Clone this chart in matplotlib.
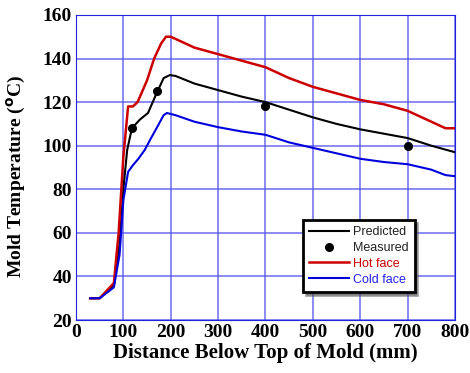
import matplotlib.pyplot as plt
import numpy as np

# Predicted temperature along the mold
pred_x = [30, 50, 80, 92, 100, 108, 118, 135, 152, 170, 185, 198, 210, 250, 300, 350, 400, 450, 500, 550, 600, 650, 700, 750, 800]
pred_y = [30, 30, 36, 55, 80, 98, 108, 112, 115, 124, 131, 132.4, 132, 128.5, 125.5, 122.5, 120, 116.5, 113, 110, 107.5, 105.5, 103.5, 100, 97]

hot_x = [30, 50, 80, 90, 100, 110, 120, 130, 150, 165, 180, 190, 200, 210, 250, 300, 350, 400, 450, 500, 550, 600, 650, 700, 750, 780, 800]
hot_y = [30, 30, 37, 60, 95, 118, 118, 120, 130, 140, 147, 150, 150, 149, 145, 142, 139, 136, 131, 127, 124, 121, 119, 116, 111, 108, 108]

cold_x = [30, 50, 80, 92, 100, 110, 120, 131, 145, 156, 170, 185, 192, 210, 250, 300, 350, 400, 450, 500, 550, 600, 650, 700, 750, 780, 800]
cold_y = [30, 30, 35, 50, 75, 88, 91, 93.8, 98, 102.5, 108, 114, 115, 114, 111, 108.5, 106.5, 105, 101.5, 99, 96.5, 94, 92.5, 91.5, 89, 86.5, 86]

meas_x = [118, 170, 400, 700]
meas_y = [108, 125, 118, 100]

plt.rcParams['font.family'] = 'serif'
plt.rcParams['font.serif'] = ['Liberation Serif', 'DejaVu Serif']

fig = plt.figure(figsize=(4.7, 3.73), dpi=100)
ax = fig.add_axes([0.1617, 0.142, 0.8063, 0.818])

ax.plot(pred_x, pred_y, color="black", lw=1.5, label="Predicted")
ax.plot(meas_x, meas_y, "o", color="black", ms=5.5, label="Measured")
ax.plot(hot_x, hot_y, color="#cc0000", lw=1.8, label="Hot face")
ax.plot(cold_x, cold_y, color="#0000dd", lw=1.5, label="Cold face")

ax.set_xlim(0, 800)
ax.set_ylim(20, 160)
ax.set_xticks(np.arange(0, 801, 100))
ax.set_yticks(np.arange(20, 161, 20))
ax.grid(color="#5555ee", lw=1.2, alpha=0.8)
for s in ax.spines.values():
    s.set_color("#2222dd")
ax.tick_params(length=0, pad=3, labelsize=14)
for t in ax.get_xticklabels() + ax.get_yticklabels():
    t.set_fontweight("bold")

ax.set_xlabel("Distance Below Top of Mold (mm)", fontsize=15, fontweight="bold", labelpad=1)
ax.set_ylabel("Mold Temperature ($^{\\mathbf{o}}$C)", fontsize=14, fontweight="bold", labelpad=3)
ax.yaxis.set_label_coords(-0.127, 0.47)

leg = ax.legend(loc="upper left", bbox_to_anchor=(0.582, 0.348), frameon=True, fancybox=False,
                shadow=True, prop={'family': 'Liberation Sans', 'size': 9}, handlelength=3.2,
                borderpad=0.5, labelspacing=0.3, handletextpad=0.3)
leg.get_frame().set_edgecolor("black")
leg.get_frame().set_linewidth(2)
leg.get_frame().set_alpha(1)
colors = ["#222222", "#222222", "#cc0000", "#2222ee"]
for t, c in zip(leg.get_texts(), colors):
    t.set_color(c)

plt.savefig("out.png", dpi=100)
